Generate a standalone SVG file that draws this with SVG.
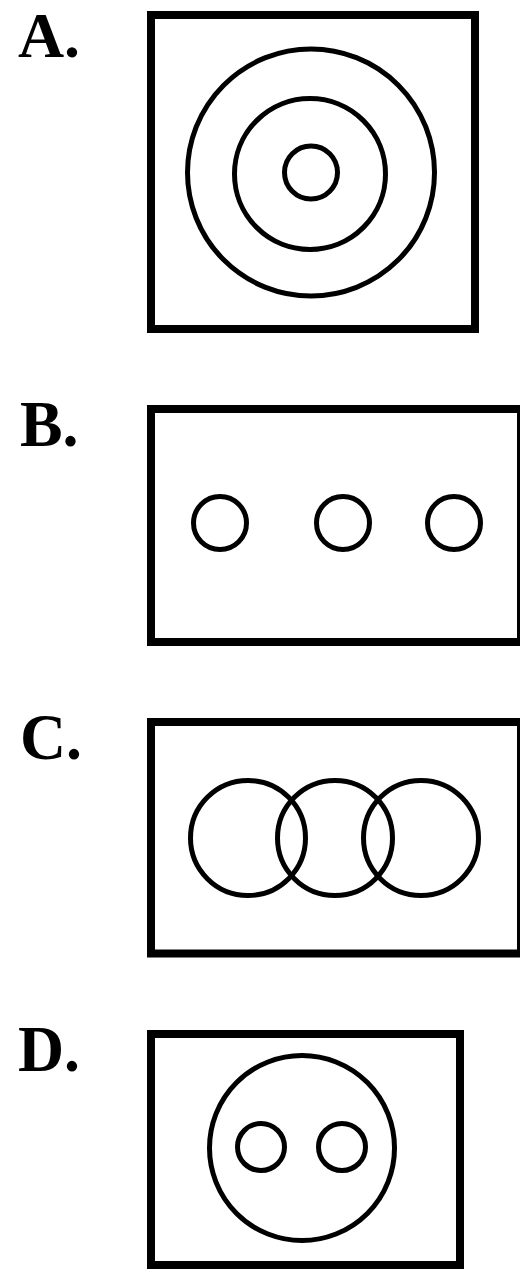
<svg xmlns="http://www.w3.org/2000/svg" width="520" height="1275" viewBox="0 0 520 1275">
<style>
.box{fill:none;stroke:#000;stroke-width:8}
.c{fill:none;stroke:#000;stroke-width:5}
.lbl{font-family:"Liberation Serif",serif;font-weight:bold;font-size:62px;fill:#000}
</style>
<rect width="520" height="1275" fill="#fff"/>
<g id="A">
<text class="lbl" transform="translate(18,57) scale(1.03,1.02)">A.</text>
<rect class="box" x="151" y="15" width="324" height="314"/>
<circle class="c" cx="311" cy="172.5" r="123.5"/>
<circle class="c" cx="310" cy="174" r="75.5"/>
<circle class="c" cx="311" cy="172.5" r="26.5"/>
</g>
<g id="B">
<text class="lbl" transform="translate(20,446) scale(1.03,1.05)">B.</text>
<rect class="box" x="151" y="409" width="370" height="233"/>
<circle class="c" cx="220" cy="523" r="26.5"/>
<circle class="c" cx="343" cy="523" r="26.5"/>
<circle class="c" cx="454" cy="523" r="26.5"/>
</g>
<g id="C">
<text class="lbl" transform="translate(20,759) scale(1.03,1.05)">C.</text>
<rect class="box" x="151" y="722" width="370" height="231.5"/>
<circle class="c" cx="248" cy="838" r="57.5"/>
<circle class="c" cx="335" cy="838" r="57.5"/>
<circle class="c" cx="421" cy="838" r="57.5"/>
</g>
<g id="D">
<text class="lbl" transform="translate(18,1071) scale(1.03,1.05)">D.</text>
<rect class="box" x="151" y="1034" width="309" height="231"/>
<circle class="c" cx="302" cy="1148" r="92.5"/>
<circle class="c" cx="261" cy="1147" r="23.5"/>
<circle class="c" cx="342" cy="1147" r="23.5"/>
</g>
</svg>
